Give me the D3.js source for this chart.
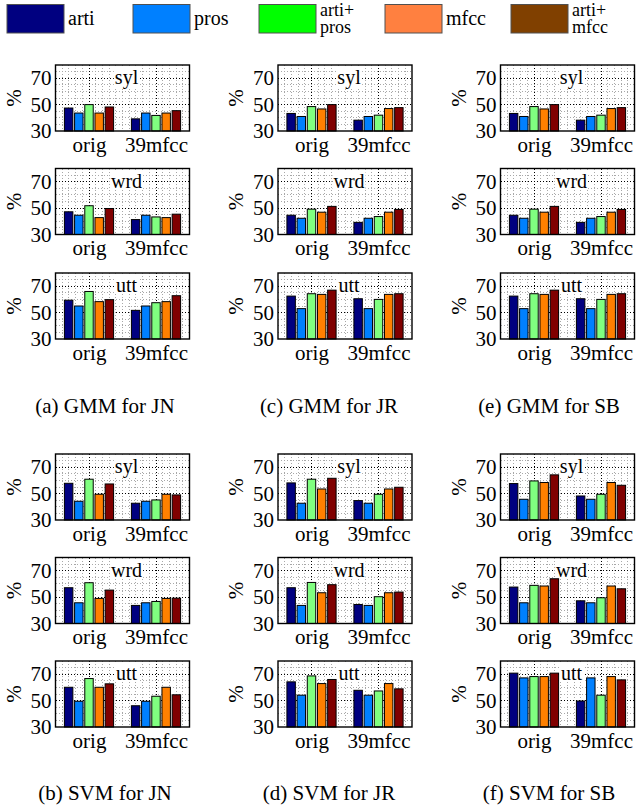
<!DOCTYPE html>
<html>
<head>
<meta charset="utf-8">
<script src="https://cdn.jsdelivr.net/npm/d3@7"></script>
<style>
  body { margin: 0; background: #fff; }
  svg text { font-family: "Liberation Serif", "Times New Roman", serif; fill: #000; }
</style>
</head>
<body>
<svg id="chart" width="636" height="806"></svg>
<script>
//// data
const features = ['arti', 'pros', 'arti+pros', 'mfcc', 'arti+mfcc'];
const legendLines = [['arti'], ['pros'], ['arti+', 'pros'], ['mfcc'], ['arti+', 'mfcc']];
const groups = ['orig', '39mfcc'];
const levels = ['syl', 'wrd', 'utt'];
const yTicks = [30, 50, 70];
const legendColors = ['#000080', '#0080ff', '#00ff00', '#ff8040', '#804000'];
const barColors = ['#000080', '#0080ff', '#80ff80', '#ff8000', '#800000'];

// rows: syl orig, syl 39mfcc, wrd orig, wrd 39mfcc, utt orig, utt 39mfcc
const gmmJN = [
	[47.4, 43.6, 50.0, 43.6, 48.2], [39.2, 43.6, 41.8, 43.6, 45.4],
	[47.2, 44.6, 51.8, 42.8, 49.7], [41.3, 44.6, 43.3, 42.8, 45.4],
	[59.4, 55.0, 66.0, 58.3, 59.8], [51.7, 55.0, 57.5, 58.3, 62.8]
];
const gmmJR = [
	[43.3, 41.0, 48.5, 46.7, 50.0], [38.2, 41.0, 42.0, 47.0, 47.7],
	[44.6, 42.3, 49.2, 46.9, 51.3], [39.2, 42.3, 43.6, 46.9, 49.0],
	[62.5, 53.0, 64.3, 63.8, 67.0], [60.5, 53.0, 60.0, 63.8, 64.3]
];
const gmmSB = [
	[43.3, 41.0, 48.5, 46.7, 50.0], [38.2, 41.0, 42.0, 47.0, 47.7],
	[44.6, 42.3, 49.2, 46.9, 51.3], [39.2, 42.3, 43.6, 46.9, 49.0],
	[62.5, 53.0, 64.3, 63.8, 67.0], [60.5, 53.0, 60.0, 63.8, 64.3]
];
const svmJN = [
	[57.8, 44.2, 60.9, 49.5, 57.3], [42.7, 44.2, 45.2, 49.5, 49.0],
	[57.1, 45.7, 60.9, 49.0, 55.3], [43.7, 45.7, 46.7, 49.0, 49.2],
	[60.1, 49.5, 66.7, 60.1, 62.7], [46.1, 49.5, 53.3, 60.1, 54.4]
];
const svmJR = [
	[58.1, 42.7, 60.9, 53.5, 61.6], [44.7, 42.7, 49.5, 53.5, 54.8],
	[57.1, 43.7, 61.1, 53.3, 59.4], [44.4, 43.7, 50.3, 53.3, 53.8],
	[64.2, 54.1, 68.7, 62.9, 66.0], [57.8, 54.1, 57.3, 62.9, 58.9]
];
const svmSB = [
	[57.6, 45.7, 59.6, 58.4, 64.2], [48.2, 45.7, 49.5, 58.4, 56.3],
	[57.6, 45.7, 58.9, 58.4, 63.9], [47.2, 45.7, 49.5, 58.4, 56.3],
	[70.8, 67.2, 68.2, 68.2, 70.8], [49.7, 67.2, 54.1, 68.2, 65.7]
];

const blocks = [
	{ caption: '(a) GMM for JN', data: gmmJN, col: 0, half: 0 },
	{ caption: '(c) GMM for JR', data: gmmJR, col: 1, half: 0 },
	{ caption: '(e) GMM for SB', data: gmmSB, col: 2, half: 0 },
	{ caption: '(b) SVM for JN', data: svmJN, col: 0, half: 1 },
	{ caption: '(d) SVM for JR', data: svmJR, col: 1, half: 1 },
	{ caption: '(f) SVM for SB', data: svmSB, col: 2, half: 1 }
];

//// layout
const colLeft = [55.5, 278, 500.5];
const captionX = [105, 329, 549];
const rowTop = [[65, 168.5, 273], [454, 557.5, 661]];
const captionY = [413, 800];
const pw = 134, ph = 66;
const slot = 0.152, barW = 0.126;

const svg = d3.select('#chart');

//// legend
const legend = svg.append('g');
features.forEach((f, i) => {
	const lx = 7 + i * 126;
	legend.append('rect')
		.attr('x', lx).attr('y', 4.5)
		.attr('width', 57).attr('height', 28.5)
		.attr('fill', legendColors[i])
		.attr('stroke', '#505050').attr('stroke-width', 1);
	const lines = legendLines[i];
	if (lines.length === 1) {
		legend.append('text')
			.attr('x', lx + 61).attr('y', 25)
			.style('font-size', '20px')
			.text(lines[0]);
	} else {
		//// two stacked labels, set tight like the original
		lines.forEach((ln, k) => {
			legend.append('text')
				.attr('x', lx + 61).attr('y', 16 + k * 16.5)
				.style('font-size', '18px')
				.text(ln);
		});
	}
});

const dotted = (sel, color) => sel
	.attr('stroke', color)
	.attr('stroke-width', 1)
	.attr('stroke-dasharray', '1,2')
	.attr('shape-rendering', 'crispEdges');

//// panels
blocks.forEach(block => {
	levels.forEach((level, r) => {
		const left = colLeft[block.col];
		const top = rowTop[block.half][r];
		const x = d3.scaleLinear().domain([0.5, 2.5]).range([left, left + pw]);
		const y = d3.scaleLinear().domain([30, 80]).range([top + ph, top]);
		const g = svg.append('g');

		//// grid
		const minorY = d3.range(35, 80, 5).filter(v => !yTicks.includes(v));
		const minorX = d3.range(6, 25).map(v => v / 10).filter(v => v !== 1 && v !== 2);
		g.selectAll('.mny').data(minorY).enter().append('line')
			.attr('x1', left).attr('x2', left + pw)
			.attr('y1', d => y(d)).attr('y2', d => y(d))
			.call(dotted, '#a8a8a8');
		g.selectAll('.mnx').data(minorX).enter().append('line')
			.attr('x1', d => x(d)).attr('x2', d => x(d))
			.attr('y1', top).attr('y2', top + ph)
			.call(dotted, '#a8a8a8');
		g.selectAll('.mjy').data(yTicks.slice(1)).enter().append('line')
			.attr('x1', left).attr('x2', left + pw)
			.attr('y1', d => y(d)).attr('y2', d => y(d))
			.call(dotted, '#000');
		g.selectAll('.mjx').data([1, 2]).enter().append('line')
			.attr('x1', d => x(d)).attr('x2', d => x(d))
			.attr('y1', top).attr('y2', top + ph)
			.call(dotted, '#000');

		//// title with white background
		const title = g.append('text')
			.attr('x', x(1.56)).attr('y', top + 19)
			.attr('text-anchor', 'middle')
			.style('font-size', '20px')
			.text(level);
		const bb = title.node().getBBox();
		g.insert('rect', 'text')
			.attr('x', bb.x - 1).attr('y', bb.y + 2)
			.attr('width', bb.width + 2).attr('height', bb.height - 4)
			.attr('fill', '#fff');

		//// bars
		const rows = [block.data[r * 2], block.data[r * 2 + 1]];
		const bw = x(barW) - x(0);
		rows.forEach((vals, gi) => {
			g.selectAll('.bar' + gi).data(vals).enter().append('rect')
				.attr('x', (d, i) => x(gi + 1 + (i - 2) * slot) - bw / 2)
				.attr('y', d => y(d))
				.attr('width', bw)
				.attr('height', d => y(30) - y(d))
				.attr('fill', (d, i) => barColors[i])
				.attr('stroke', '#000')
				.attr('stroke-width', 1);
		});

		//// box
		g.append('rect')
			.attr('x', left).attr('y', top)
			.attr('width', pw).attr('height', ph)
			.attr('fill', 'none')
			.attr('stroke', '#000').attr('stroke-width', 1.4);

		//// axes
		const ya = g.append('g')
			.attr('transform', `translate(${left},0)`)
			.call(d3.axisLeft(y).tickValues(yTicks).tickSize(0).tickPadding(4));
		const xa = g.append('g')
			.attr('transform', `translate(0,${top + ph})`)
			.call(d3.axisBottom(x).tickValues([1, 2]).tickFormat((d, i) => groups[i]).tickSize(0).tickPadding(6));
		[ya, xa].forEach(a => {
			a.select('.domain').remove();
			a.selectAll('text')
				.style('font-family', '"Liberation Serif", serif')
				.style('font-size', '21px')
				.attr('fill', '#000');
		});

		g.append('text')
			.attr('transform', `translate(${left - 35},${top + ph / 2}) rotate(-90)`)
			.attr('text-anchor', 'middle')
			.style('font-size', '21px')
			.text('%');
	});

	svg.append('text')
		.attr('x', captionX[block.col]).attr('y', captionY[block.half])
		.attr('text-anchor', 'middle')
		.style('font-size', '21px')
		.text(block.caption);
});
</script>
</body>
</html>
